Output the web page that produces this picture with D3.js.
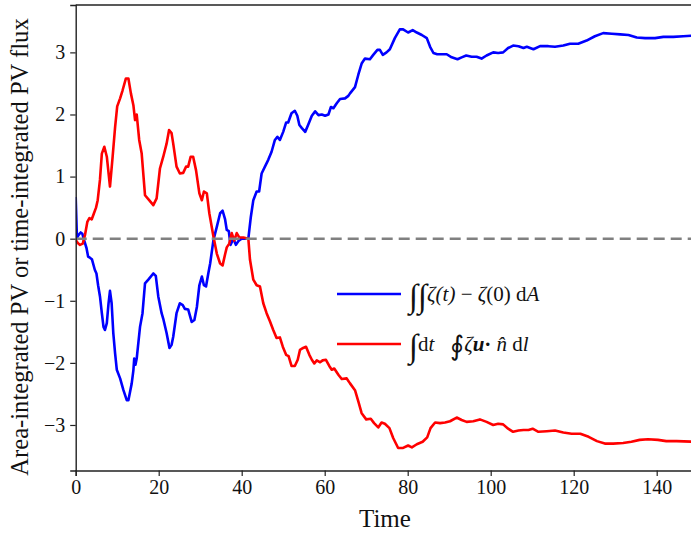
<!DOCTYPE html>
<html><head><meta charset="utf-8">
<script src="https://cdn.jsdelivr.net/npm/d3@7"></script>
<style>body{margin:0;background:#fff;} svg{display:block;} text{font-family:'Liberation Serif','Times New Roman',serif;}</style>
</head><body>
<script>
const blueT = [0,0.3,0.7,1.2,1.6,2.0,2.6,3.0,3.5,3.9,4.6,5.0,5.4,5.85,6.3,6.7,7.05,7.5,7.9,8.26,8.66,9.06,9.5,9.9,10.7,11.5,12.3,12.7,13.5,13.9,14.1,14.4,14.7,15.5,16.1,16.7,17.5,18.7,19.3,19.9,20.7,21.1,21.9,22.6,23.1,23.5,24.3,25.1,25.8,26.3,27.1,27.95,28.6,29.2,29.8,30.4,30.9,31.4,31.95,32.4,33.2,34.0,34.8,35.4,36.0,36.4,36.9,37.3,38.0,38.6,39.3,40.0,41.6,42.2,42.8,43.6,44.2,44.8,45.6,46.4,47.2,48.0,48.6,49.2,50.0,50.7,51.2,52.0,52.8,53.4,53.9,54.5,55.3,56.0,56.9,57.7,58.5,59.3,60.1,60.9,61.5,62.1,62.9,63.7,64.9,65.7,66.1,67.3,68.1,68.9,69.7,70.9,71.7,72.7,73.3,74.0,74.9,75.7,76.9,78.1,78.9,80.1,81.2,82.2,83.4,84.6,85.4,86.2,87.1,87.9,89.4,90.6,92.0,93.0,94.1,95.4,96.6,97.8,99.0,100.6,101.8,103.0,104.2,105.4,106.7,107.9,108.7,110.3,111.9,113.9,115.5,117.5,119.1,121.1,123.1,125.1,127.1,129.2,131.2,133.2,135.2,137.2,139.6,141.6,144.0,146.4,149.0];
const blueV = [0.67,0.02,0.06,0.10,0.08,-0.02,-0.15,-0.29,-0.31,-0.33,-0.50,-0.56,-0.75,-0.93,-1.2,-1.42,-1.47,-1.36,-1.05,-0.84,-1.04,-1.52,-1.85,-2.11,-2.25,-2.44,-2.60,-2.60,-2.33,-2.12,-1.93,-2.03,-1.93,-1.42,-1.20,-0.72,-0.66,-0.56,-0.60,-0.93,-1.20,-1.29,-1.52,-1.76,-1.71,-1.58,-1.20,-1.04,-1.07,-1.13,-1.14,-1.34,-1.31,-1.10,-0.75,-0.61,-0.75,-0.77,-0.56,-0.40,-0.02,0.19,0.41,0.45,0.31,0.14,0.12,-0.10,0.0,-0.10,-0.03,0.0,0.0,0.35,0.62,0.76,0.76,1.05,1.16,1.27,1.40,1.59,1.64,1.59,1.72,1.87,1.87,2.02,2.06,1.98,1.83,1.78,1.72,1.83,1.98,2.05,1.99,2.0,1.98,2.0,2.12,2.10,2.18,2.25,2.26,2.30,2.34,2.44,2.64,2.82,2.90,2.89,2.96,3.04,3.04,2.96,3.0,3.05,3.23,3.37,3.37,3.32,3.36,3.32,3.28,3.23,3.09,2.99,2.97,2.97,2.97,2.92,2.89,2.92,2.95,2.93,2.93,2.90,2.95,3.0,2.99,3.0,3.07,3.11,3.10,3.07,3.09,3.05,3.10,3.10,3.09,3.11,3.14,3.14,3.19,3.26,3.31,3.30,3.29,3.28,3.24,3.23,3.23,3.25,3.25,3.26,3.27];
const redT = [0,0.5,1.05,1.7,2.24,2.8,3.3,3.85,4.4,4.9,5.3,5.85,6.3,6.9,7.5,8.26,8.9,9.5,10.0,10.7,11.3,12.1,12.7,13.3,13.9,14.3,14.7,15.3,15.9,16.7,17.7,18.7,19.5,20.3,21.1,21.9,22.5,23.1,23.5,24.3,25.1,25.9,26.6,27.1,27.7,28.3,29.0,29.8,30.4,30.9,31.6,32.2,33.2,34.0,34.8,35.4,36.0,36.4,37.0,37.6,38.2,38.8,39.4,40.4,41.6,42.0,42.8,43.6,44.4,45.2,46.0,46.8,47.6,48.4,49.2,49.9,50.7,51.3,52.0,52.8,53.5,54.05,54.8,55.5,56.3,56.9,57.5,58.1,58.9,59.5,60.3,61.1,61.7,62.3,63.3,64.1,65.3,66.1,67.3,68.1,68.9,70.0,71.1,71.9,72.9,73.7,74.5,75.6,76.5,77.7,78.9,80.1,81.0,82.2,83.6,84.7,85.5,86.6,87.8,89.0,90.2,91.8,93.0,94.2,95.8,97.4,99.0,100.6,101.8,103.0,104.2,105.4,106.7,107.9,109.1,110.1,111.5,113.5,115.5,117.5,119.5,121.6,123.6,125.6,127.5,129.5,131.9,133.9,135.9,137.9,140.3,142.3,144.8,149.0];
const redV = [-0.02,-0.07,-0.10,-0.08,0.06,0.27,0.33,0.31,0.41,0.50,0.62,0.95,1.37,1.48,1.32,0.84,1.32,1.80,2.13,2.26,2.39,2.58,2.58,2.34,2.15,1.91,2.0,1.59,1.37,0.70,0.62,0.54,0.65,1.13,1.32,1.53,1.75,1.70,1.53,1.16,1.05,1.06,1.16,1.16,1.32,1.32,1.10,0.73,0.62,0.76,0.73,0.41,0.03,-0.24,-0.40,-0.43,-0.25,-0.14,-0.08,0.09,-0.03,0.09,0.02,0.02,0.0,-0.34,-0.66,-0.75,-0.77,-1.04,-1.20,-1.33,-1.47,-1.60,-1.59,-1.74,-1.87,-1.89,-2.05,-2.05,-1.95,-1.79,-1.76,-1.74,-1.87,-1.95,-2.01,-1.96,-1.99,-1.96,-1.95,-2.05,-2.11,-2.09,-2.19,-2.26,-2.25,-2.33,-2.44,-2.62,-2.81,-2.91,-2.90,-2.97,-3.04,-2.96,-2.98,-3.05,-3.21,-3.37,-3.37,-3.33,-3.36,-3.31,-3.27,-3.20,-3.05,-2.96,-2.97,-2.96,-2.94,-2.88,-2.92,-2.95,-2.94,-2.91,-2.95,-3.0,-2.98,-2.99,-3.06,-3.11,-3.09,-3.08,-3.08,-3.06,-3.11,-3.10,-3.09,-3.12,-3.14,-3.14,-3.19,-3.26,-3.30,-3.30,-3.29,-3.27,-3.24,-3.23,-3.24,-3.26,-3.26,-3.27];
const xTicks = [0,20,40,60,80,100,120,140];
const yTicks = [-3,-2,-1,0,1,2,3];
const xLabel = "Time";
const yLabel = "Area-integrated PV or time-integrated PV flux";

const SERIF = "'Liberation Serif','Times New Roman',serif";
const W = 691, H = 535;
const L = 75.7, R = 698.2, T = 5, B = 470.5;
const svg = d3.select("body").append("svg").attr("width", W).attr("height", H)
  .attr("font-family", SERIF);
const x = d3.scaleLinear().domain([0,150]).range([L,R]);
const y = d3.scaleLinear().domain([-3.733,3.763]).range([B,T]);

svg.append("defs").append("clipPath").attr("id","clip").append("rect")
  .attr("x",L).attr("y",T).attr("width",R-L).attr("height",B-T);

const line = d3.line().x(d=>x(d[0])).y(d=>y(d[1]));
const g = svg.append("g").attr("clip-path","url(#clip)");
g.append("path").datum(blueT.map((t,i)=>[t,blueV[i]])).attr("d",line)
  .attr("fill","none").attr("stroke","#0000ff").attr("stroke-width",2.6).attr("stroke-linejoin","round");
g.append("path").datum(redT.map((t,i)=>[t,redV[i]])).attr("d",line)
  .attr("fill","none").attr("stroke","#ff0000").attr("stroke-width",2.6).attr("stroke-linejoin","round");
g.append("line").attr("x1",x(0)).attr("x2",R).attr("y1",y(0)).attr("y2",y(0))
  .attr("stroke","#808080").attr("stroke-width",2.4).attr("stroke-dasharray","11,6");

// axes
const xa = svg.append("g").attr("transform",`translate(0,${B})`)
  .call(d3.axisBottom(x).tickValues(xTicks).tickSize(5.5).tickPadding(4).tickFormat(d3.format("d")));
const ya = svg.append("g").attr("transform",`translate(${L},0)`)
  .call(d3.axisLeft(y).tickValues(yTicks).tickSize(5.5).tickPadding(5)
    .tickFormat(d => d<0 ? "\u2212"+Math.abs(d) : String(d)));
[xa,ya].forEach(a=>{
  a.attr("font-family", SERIF).attr("font-size", 20);
  a.select(".domain").attr("stroke","#222").attr("stroke-width",1.4);
  a.selectAll(".tick line").attr("stroke","#222").attr("stroke-width",1.2);
  a.selectAll("text").attr("font-size",20).attr("fill","#111").attr("font-family", SERIF);
});
svg.append("line").attr("x1",L).attr("x2",R).attr("y1",T).attr("y2",T)
  .attr("stroke","#222").attr("stroke-width",1.4);

svg.append("text").attr("x",(L+R)/2-2).attr("y",527).attr("text-anchor","middle")
  .attr("font-size",25).attr("fill","#111").text(xLabel);
svg.append("text").attr("transform","translate(28,247) rotate(-90)").attr("text-anchor","middle")
  .attr("font-size",24.6).attr("fill","#111").text(yLabel);

// legend
const leg = svg.append("g");
leg.append("line").attr("x1",337).attr("x2",401).attr("y1",294).attr("y2",294)
  .attr("stroke","#0000ff").attr("stroke-width",2.6);
leg.append("line").attr("x1",337).attr("x2",401).attr("y1",344).attr("y2",344)
  .attr("stroke","#ff0000").attr("stroke-width",2.6);
const t1 = leg.append("text").attr("x",409).attr("y",301).attr("font-size",21).attr("fill","#111");
t1.append("tspan").attr("font-size",33).attr("dy",6).style("font-style","italic").text("\u222B\u222B");
t1.append("tspan").attr("dy",-6).style("font-style","italic").text("\u03B6(t)");
t1.append("tspan").text(" \u2212 ");
t1.append("tspan").style("font-style","italic").text("\u03B6");
t1.append("tspan").text("(0) d");
t1.append("tspan").style("font-style","italic").text("A");
const t2 = leg.append("text").attr("x",409).attr("y",351).attr("font-size",21).attr("fill","#111");
t2.append("tspan").attr("font-size",33).attr("dy",6).style("font-style","italic").text("\u222B");
t2.append("tspan").attr("dy",-6).text("d");
t2.append("tspan").style("font-style","italic").text("t\u2002 ");
t2.append("tspan").attr("font-size",27).attr("dy",4).attr("font-family","'DejaVu Serif',serif").text("\u222E");
t2.append("tspan").attr("dy",-4).style("font-style","italic").text("\u03B6");
t2.append("tspan").style("font-style","italic").style("font-weight","bold").text("u");
t2.append("tspan").style("font-weight","bold").text("\u00B7 ");
t2.append("tspan").style("font-style","italic").text("n\u0302");
t2.append("tspan").text(" d");
t2.append("tspan").style("font-style","italic").text("l");
</script>
</body></html>
